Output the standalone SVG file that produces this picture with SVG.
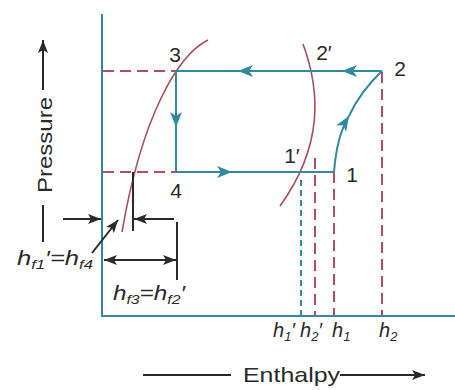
<svg xmlns="http://www.w3.org/2000/svg" width="455" height="390" viewBox="0 0 455 390">
<style>
.teal{stroke:#2f8b9b;stroke-width:2;fill:none}
.red{stroke:#a8505a;stroke-width:1.6;fill:none}
.dash{stroke:#b04e68;stroke-width:2;fill:none;stroke-dasharray:11 6}
.dasht{stroke:#2f8b9b;stroke-width:2;fill:none;stroke-dasharray:6 4}
.blk{stroke:#2a2a2a;stroke-width:2;fill:none}
.lbl{font-family:"Liberation Sans",Arial,sans-serif;font-size:21px;fill:#2a2a2a}
.h{font-family:"Liberation Sans",Arial,sans-serif;font-style:italic;font-size:20px;fill:#2a2a2a}
.s{font-size:13px}
</style>
<defs>
<marker id="ta" markerUnits="userSpaceOnUse" markerWidth="16" markerHeight="12" refX="15" refY="6" orient="auto"><path d="M0,0 L15,6 L0,12 L4,6 Z" fill="#2f8b9b"/></marker>
<marker id="ba" markerUnits="userSpaceOnUse" markerWidth="14" markerHeight="10" refX="13" refY="5" orient="auto"><path d="M0,0 L13,5 L0,10 L3,5 Z" fill="#2a2a2a"/></marker>
<marker id="bs" markerUnits="userSpaceOnUse" markerWidth="14" markerHeight="10" refX="1" refY="5" orient="auto"><path d="M14,0 L1,5 L14,10 L11,5 Z" fill="#2a2a2a"/></marker>
</defs>
<g id="axes">
<line class="teal" x1="102" y1="14" x2="102" y2="317"/>
<line class="teal" x1="101" y1="316" x2="455" y2="316"/>
</g>
<g id="guides">
<line class="dash" x1="103" y1="71" x2="176" y2="71" stroke-dasharray="9 5"/>
<line class="dash" x1="103" y1="172" x2="176" y2="172" stroke-dasharray="9 5"/>
<line class="dash" x1="382" y1="72" x2="382" y2="316" stroke-dasharray="12 7"/>
<line class="dash" x1="334" y1="172" x2="334" y2="316" stroke-dasharray="14 6"/>
<line class="dash" x1="315" y1="158" x2="315" y2="316" stroke-dasharray="10 6"/>
<line class="dasht" x1="301" y1="180" x2="301" y2="316"/>
</g>
<g id="saturation">
<path class="red" d="M208,40 C178,55 142,115 122,232"/>
<path class="red" d="M303,44 C320,90 324,145 280,206"/>
</g>
<g id="connectors">
<line class="teal" x1="382" y1="71" x2="342" y2="71" marker-end="url(#ta)"/>
<line class="teal" x1="342" y1="71" x2="238" y2="71" marker-end="url(#ta)"/>
<line class="teal" x1="238" y1="71" x2="176" y2="71"/>
<line class="teal" x1="176" y1="71" x2="176" y2="127" marker-end="url(#ta)"/>
<line class="teal" x1="176" y1="127" x2="176" y2="172"/>
<line class="teal" x1="176" y1="172" x2="232" y2="172" marker-end="url(#ta)"/>
<line class="teal" x1="232" y1="172" x2="334" y2="172"/>
<path class="teal" d="M334,172 Q337,135 349,116" marker-end="url(#ta)"/>
<path class="teal" d="M349,116 Q360,92 382,71"/>
</g>
<g id="node-3"><text class="lbl" x="175" y="62" text-anchor="middle">3</text></g>
<g id="node-2"><text class="lbl" x="400" y="76" text-anchor="middle">2</text></g>
<g id="node-2p"><text class="lbl" x="324" y="60" text-anchor="middle">2′</text></g>
<g id="node-4"><text class="lbl" x="176" y="198" text-anchor="middle">4</text></g>
<g id="node-1"><text class="lbl" x="352" y="182" text-anchor="middle">1</text></g>
<g id="node-1p"><text class="lbl" x="292" y="163" text-anchor="middle">1′</text></g>
<g id="dimensions">
<line class="blk" x1="133" y1="172" x2="133" y2="231"/>
<line class="blk" x1="63" y1="219" x2="101" y2="219" marker-end="url(#ba)"/>
<line class="blk" x1="174" y1="219" x2="134" y2="219" marker-end="url(#ba)"/>
<line class="blk" x1="177" y1="222" x2="177" y2="280"/>
<line class="blk" x1="104" y1="260" x2="176" y2="260" marker-start="url(#bs)" marker-end="url(#ba)"/>
<line class="blk" x1="92" y1="253" x2="118" y2="220" marker-end="url(#ba)"/>
<text class="h" x="17" y="265" textLength="76" lengthAdjust="spacingAndGlyphs">h<tspan class="s" dy="4">f1</tspan><tspan dy="-4">′=h</tspan><tspan class="s" dy="4">f4</tspan></text>
<text class="h" x="113" y="300" textLength="72" lengthAdjust="spacingAndGlyphs">h<tspan class="s" dy="4">f3</tspan><tspan dy="-4">=h</tspan><tspan class="s" dy="4">f2</tspan><tspan dy="-4">′</tspan></text>
</g>
<g id="xlabels">
<text class="h" x="273" y="337">h<tspan class="s" dy="4">1</tspan><tspan dy="-4">′</tspan></text>
<text class="h" x="300" y="337">h<tspan class="s" dy="4">2</tspan><tspan dy="-4">′</tspan></text>
<text class="h" x="332" y="337">h<tspan class="s" dy="4">1</tspan></text>
<text class="h" x="379" y="337">h<tspan class="s" dy="4">2</tspan></text>
</g>
<g id="axis-titles">
<line class="blk" x1="43" y1="90" x2="43" y2="40" marker-end="url(#ba)"/>
<line class="blk" x1="43" y1="205" x2="43" y2="242"/>
<text class="lbl" transform="translate(52,145) rotate(-90)" text-anchor="middle" font-size="23" textLength="96" lengthAdjust="spacingAndGlyphs">Pressure</text>
<line class="blk" x1="143" y1="375" x2="231" y2="375"/>
<text class="lbl" x="243" y="382" font-size="18" textLength="97" lengthAdjust="spacingAndGlyphs">Enthalpy</text>
<line class="blk" x1="340" y1="375" x2="425" y2="375" marker-end="url(#ba)"/>
</g>
</svg>
